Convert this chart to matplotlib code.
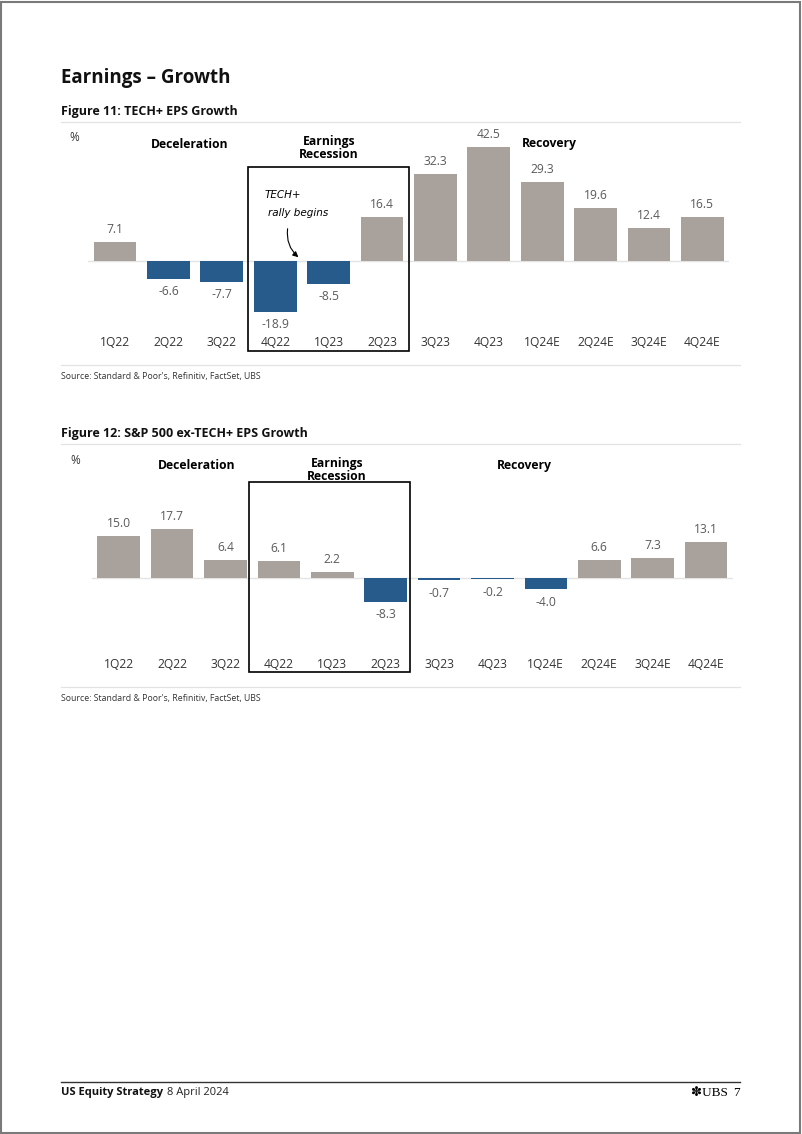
import matplotlib.pyplot as plt
from matplotlib.patches import Rectangle, FancyArrowPatch
from matplotlib.lines import Line2D

# data
quarters = ["1Q22", "2Q22", "3Q22", "4Q22", "1Q23", "2Q23",
            "3Q23", "4Q23", "1Q24E", "2Q24E", "3Q24E", "4Q24E"]
tech_eps = [7.1, -6.6, -7.7, -18.9, -8.5, 16.4, 32.3, 42.5, 29.3, 19.6, 12.4, 16.5]
extech_eps = [15.0, 17.7, 6.4, 6.1, 2.2, -8.3, -0.7, -0.2, -4.0, 6.6, 7.3, 13.1]
phases = ["Deceleration", "Earnings\nRecession", "Recovery"]

W, H = 802, 1134
GREY = "#a9a19c"
BLUE = "#275b8c"
FONT = "Open Sans"

plt.rcParams["font.family"] = [FONT, "DejaVu Sans"]

fig = plt.figure(figsize=(W / 100, H / 100), dpi=100)


def fx(x):
    return x / W


def fy(y):
    return 1 - y / H


def ftext(x, y, s, **kw):
    kw.setdefault("va", "center")
    fig.text(fx(x), fy(y), s, **kw)


def hline(y, x0=61, x1=740, color="#e3e3e3", lw=0.9):
    fig.add_artist(Line2D([fx(x0), fx(x1)], [fy(y), fy(y)], color=color, lw=lw))


def bar_chart(values, x0, zero, scale, top, bottom, tick_y):
    step = 53.4
    left = x0 - 0.5 * step
    ax = fig.add_axes([fx(left), fy(bottom), 12 * step / W, (bottom - top) / H])
    ax.set_xlim(-0.5, 11.5)
    ax.set_ylim(-(bottom - zero) / scale, (zero - top) / scale)
    ax.axis("off")
    xs = range(len(values))
    cols = [GREY if v >= 0 else BLUE for v in values]
    ax.bar(xs, values, width=0.8, color=cols, zorder=2)
    ax.axhline(0, color="#e4e4e4", lw=1.0, zorder=1)
    for i, v in enumerate(values):
        off = 9 if v >= 0 else -9.5
        ax.annotate(f"{v:.1f}", (i, v), xytext=(0, off), textcoords="offset points",
                    ha="center", va="center", fontsize=8.7, color="#5a5a5a")
    for i, q in enumerate(quarters):
        ax.text(i, -(tick_y - zero) / scale, q, ha="center", va="center",
                fontsize=8.7, color="#333333")
    return ax


def box(x0, y0, x1, y1):
    fig.add_artist(Rectangle((fx(x0), fy(y1)), fx(x1 - x0), (y1 - y0) / H,
                             fill=False, ec="black", lw=1.2))


# page frame
fig.add_artist(Rectangle((0.001, 0.001), 0.997, 0.997, fill=False, ec="#7a7a7a", lw=1.5))

ftext(61, 78, "Earnings – Growth", fontsize=13.5, fontweight="bold", color="#111111")

# Figure 11
ftext(61, 111, "Figure 11: TECH+ EPS Growth", fontsize=9, fontweight="bold", color="#111111")
hline(122)
ftext(74, 138, "%", fontsize=8.5, color="#333333", ha="center")
ftext(190, 144, phases[0], fontsize=8.7, fontweight="bold", ha="center")
ftext(329, 148.5, phases[1], fontsize=8.7, fontweight="bold", ha="center", linespacing=1.0)
ftext(549, 144, phases[2], fontsize=8.7, fontweight="bold", ha="center")
bar_chart(tech_eps, 115, 261, 2.68, 120, 360, 343)
box(248, 167, 409, 351)
ftext(283, 195, "TECH+", fontsize=7.5, style="italic", ha="center", family="DejaVu Sans")
ftext(298, 213, "rally begins", fontsize=7.5, style="italic", ha="center", family="DejaVu Sans")
fig.add_artist(FancyArrowPatch((fx(288), fy(226)), (fx(300.5), fy(259)),
                               transform=fig.transFigure,
                               connectionstyle="arc3,rad=0.3", arrowstyle="-|>",
                               mutation_scale=8, lw=0.8, color="black"))
hline(365)
ftext(61, 377, "Source: Standard & Poor's, Refinitiv, FactSet, UBS", fontsize=6.3, color="#333333")

# Figure 12
ftext(61, 433, "Figure 12: S&P 500 ex-TECH+ EPS Growth", fontsize=9, fontweight="bold", color="#111111")
hline(444)
ftext(75, 460, "%", fontsize=8.5, color="#333333", ha="center")
ftext(197, 466, phases[0], fontsize=8.7, fontweight="bold", ha="center")
ftext(337, 470.5, phases[1], fontsize=8.7, fontweight="bold", ha="center", linespacing=1.0)
ftext(524, 466, phases[2], fontsize=8.7, fontweight="bold", ha="center")
bar_chart(extech_eps, 118.7, 578.3, 2.8, 450, 680, 665)
box(249, 482, 410, 672)
hline(687)
ftext(61, 698, "Source: Standard & Poor's, Refinitiv, FactSet, UBS", fontsize=6.3, color="#333333")

# footer
hline(1082, color="#333333", lw=1.0)
ftext(61, 1093, "US Equity Strategy", fontsize=8, fontweight="bold", color="#111111")
ftext(167, 1093, "8 April 2024", fontsize=8, color="#222222")
ftext(728, 1093, "✽UBS", fontsize=9.5, ha="right", family=["Liberation Serif", "DejaVu Sans"])
ftext(740, 1093, "7", fontsize=9.5, ha="right", family="Liberation Serif")

fig.savefig("out.png", dpi=100)
